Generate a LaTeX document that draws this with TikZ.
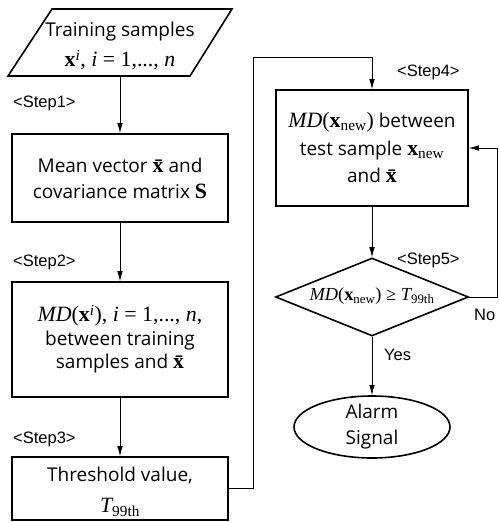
\documentclass[tikz,border=0pt]{standalone}
\usepackage{fontspec}
\setmainfont{Open Sans}
\newfontfamily\arialfont{Liberation Sans}
\newfontfamily\tms[Scale=1.15]{Liberation Serif}
\usetikzlibrary{shapes.geometric,arrows.meta}

% serif pieces for the formulas
\newcommand{\bvx}{{\tms\bfseries x}}
\newcommand{\bvxbar}{{\tms\bfseries\=x}}
\newcommand{\mi}[1]{{\tms\itshape #1}}
\newcommand{\mr}[1]{{\tms #1}}
\newcommand{\xnew}{\bvx\textsubscript{\mr{new}}}
\newcommand{\Tnn}{\mi{T}\textsubscript{\mr{99th}}}

\begin{document}
\begin{tikzpicture}[x=1pt,y=-1pt,
  box/.style={draw, line width=1.6pt, inner sep=0},
  txt/.style={font=\fontsize{19}{26}\selectfont, align=center, inner sep=0},
  steplbl/.style={font=\arialfont\fontsize{16.5}{18}\selectfont, anchor=west, inner sep=0},
  flow/.style={line width=0.8pt, -{Latex[length=10pt,width=5.5pt]}},
  link/.style={line width=0.8pt}]

\useasboundingbox (0,0) rectangle (498,522);

% input: training samples (parallelogram)
\coordinate (inTL) at (52,9);
\coordinate (inTR) at (232,9);
\coordinate (inBR) at (190,76);
\coordinate (inBL) at (8,76);
\coordinate (inOut) at (120,76);
\draw[line width=1.6pt] (inTL) -- (inTR) -- (inBR) -- (inBL) -- cycle;
\node[txt, font=\fontsize{19}{30}\selectfont] (inTxt) at (120,46)
  {Training samples\\ \bvx\textsuperscript{\mi{i}}\mr{, }\mi{i}\mr{ = 1,..., }\mi{n}};

% left column
\node[box, minimum width=216, minimum height=88] (b1) at (120,178) {};
\node[txt] (b1t) at (b1) {Mean vector \bvxbar{} and\\covariance matrix {\tms\bfseries S}};

\node[box, minimum width=216, minimum height=115] (b2) at (120,339.5) {};
\node[txt, font=\fontsize{19}{23.5}\selectfont] (b2t) at (b2)
  {\mi{MD}\mr{(}\bvx\textsuperscript{\mi{i}}\mr{), }\mi{i}\mr{ = 1,..., }\mi{n}\mr{,}\\between training\\samples and \bvxbar};

\node[box, minimum width=216, minimum height=63] (b3) at (120,488.5) {};
\node[txt, font=\fontsize{19}{31}\selectfont] (b3t) at (120,492) {Threshold value,\\ \Tnn};

% right column
\node[box, minimum width=192, minimum height=116] (b4) at (372,148) {};
\node[txt, font=\fontsize{19}{27.5}\selectfont] (b4t) at (b4)
  {\mi{MD}\mr{(}\xnew\mr{)} between\\test sample \xnew\\and \bvxbar};

\node[diamond, draw, line width=1.6pt, minimum width=193, minimum height=78, inner sep=0] (d) at (372,297) {};
\node[txt, font=\fontsize{16}{20}\selectfont] (dt) at (372,296) {\mi{MD}\mr{(}\xnew\mr{) ≥ }\Tnn};

\node[ellipse, draw, line width=1.6pt, minimum width=156, minimum height=62, inner sep=0] (al) at (372,427) {};
\node[txt] (alt) at (al) {Alarm\\Signal};

% step labels
\node[steplbl] (s1) at (13,103) {<Step1>};
\node[steplbl] (s2) at (13,262) {<Step2>};
\node[steplbl] (s3) at (13,439) {<Step3>};
\node[steplbl] (s4) at (397,72) {<Step4>};
\node[steplbl] (s5) at (397,260) {<Step5>};
\node[steplbl] (yes) at (384,355) {Yes};
\node[steplbl] (no) at (474,315) {No};

% connectors
\coordinate (up) at (253,57);
\coordinate (over) at (372,57);
\coordinate (loop) at (497,297);

\draw[flow] (inOut) -- (b1.north);
\draw[flow] (b1.south) -- (b2.north);
\draw[flow] (b2.south) -- (b3.north);
\draw[flow] (b3.east) -- (b3.east -| up) -- (up) -- (over) -- (b4.north);
\draw[flow] (b4.south) -- (d.north);
\draw[flow] (d.south) -- (al.north);
\draw[flow] (d.east) -- (loop) |- (b4.east);

\end{tikzpicture}
\end{document}
